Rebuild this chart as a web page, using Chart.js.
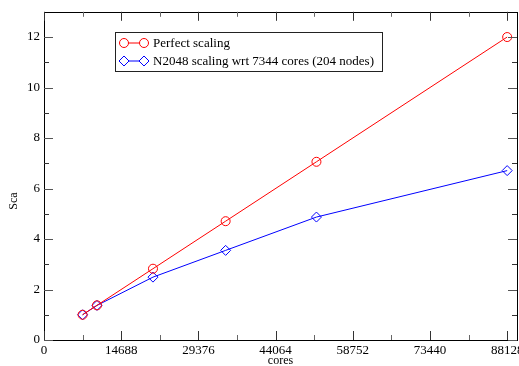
<!DOCTYPE html>
<html>
<head>
<meta charset="utf-8">
<script src="https://cdn.jsdelivr.net/npm/chart.js@4/dist/chart.umd.min.js"></script>
<style>
    html, body { margin: 0; padding: 0; background: #fff; overflow: hidden; }
    #wrap { width: 560px; height: 366px; }
</style>
</head>
<body>
<div id="wrap"><canvas id="scalingChart"></canvas></div>
<script>
// Dados
const cores = [7344, 10080, 20736, 34560, 51840, 88128];
const perfectScaling = [1, 1.373, 2.824, 4.706, 7.059, 12];
const n2048Scaling = [1, 1.37, 2.49, 3.55, 4.87, 6.71];

const xTicks = [0, 14688, 29376, 44064, 58752, 73440, 88128];
const xMinorTicks = [7344, 22032, 36720, 51408, 66096, 80784];
const yTicks = [0, 2, 4, 6, 8, 10, 12];
const yMinorTicks = [1, 3, 5, 7, 9, 11];

const seriesLabels = ['Perfect scaling', 'N2048 scaling wrt 7344 cores (204 nodes)'];
const xTitle = 'cores';
const yTitle = 'Sca';

const SERIF = "'Liberation Serif', 'DejaVu Serif', serif";

// Marcas de escala para dentro, nos quatro lados (estilo xmgrace)
const frameTicksPlugin = {
    id: 'frameTicks',
    afterDatasetsDraw(chart) {
        const { ctx, chartArea: a, scales: { x, y } } = chart;
        ctx.save();
        ctx.lineWidth = 1;
        ctx.strokeStyle = '#000';
        ctx.strokeRect(Math.round(a.left) + 0.5, Math.round(a.top) + 0.5,
            Math.round(a.right - a.left), Math.round(a.bottom - a.top));

        const tick = (x1, y1, x2, y2, color) => {
            ctx.strokeStyle = color;
            ctx.beginPath();
            ctx.moveTo(x1, y1);
            ctx.lineTo(x2, y2);
            ctx.stroke();
        };
        xTicks.forEach(v => {
            const px = Math.round(x.getPixelForValue(v)) + 0.5;
            tick(px, a.bottom, px, a.bottom - 9, '#333');
            tick(px, a.top, px, a.top + 9, '#333');
        });
        xMinorTicks.forEach(v => {
            const px = Math.round(x.getPixelForValue(v)) + 0.5;
            tick(px, a.bottom, px, a.bottom - 5, '#666');
            tick(px, a.top, px, a.top + 5, '#666');
        });
        yTicks.forEach(v => {
            const py = Math.round(y.getPixelForValue(v)) + 0.5;
            tick(a.left, py, a.left + 9, py, '#555');
            tick(a.right, py, a.right - 9, py, '#555');
        });
        yMinorTicks.forEach(v => {
            const py = Math.round(y.getPixelForValue(v)) + 0.5;
            tick(a.left, py, a.left + 5, py, '#333');
            tick(a.right, py, a.right - 5, py, '#333');
        });

        // título do eixo y (fica abaixo do centro no original)
        ctx.fillStyle = '#000';
        ctx.font = '12px ' + SERIF;
        ctx.translate(14, 201);
        ctx.rotate(-Math.PI / 2);
        ctx.textAlign = 'center';
        ctx.textBaseline = 'middle';
        ctx.fillText(yTitle, 0, 0);
        ctx.restore();
    }
};

// Legenda em caixa dentro da área do gráfico
const boxLegendPlugin = {
    id: 'boxLegend',
    afterDraw(chart) {
        const { ctx } = chart;
        const box = { left: 115.5, top: 32.5, width: 267, height: 39 };
        ctx.save();
        ctx.fillStyle = '#fff';
        ctx.fillRect(box.left, box.top, box.width, box.height);
        ctx.strokeStyle = '#222';
        ctx.lineWidth = 1;
        ctx.strokeRect(box.left, box.top, box.width, box.height);

        chart.data.datasets.forEach((ds, i) => {
            const yRow = 43 + i * 18;
            ctx.strokeStyle = ds.borderColor;
            ctx.lineWidth = 1;
            ctx.beginPath();
            ctx.moveTo(124, yRow);
            ctx.lineTo(144, yRow);
            ctx.stroke();
            [124, 144].forEach(px => {
                ctx.fillStyle = '#fff';
                ctx.strokeStyle = ds.borderColor;
                ctx.beginPath();
                const r = ds.pointRadius;
                if (ds.pointStyle === 'circle') {
                    ctx.arc(px, yRow, r, 0, Math.PI * 2);
                } else {
                    ctx.moveTo(px - r, yRow);
                    ctx.lineTo(px, yRow - r);
                    ctx.lineTo(px + r, yRow);
                    ctx.lineTo(px, yRow + r);
                    ctx.closePath();
                }
                ctx.fill();
                ctx.stroke();
            });
            ctx.fillStyle = '#000';
            ctx.font = '13px ' + SERIF;
            ctx.textAlign = 'left';
            ctx.textBaseline = 'middle';
            ctx.fillText(ds.label, 153, yRow + 1);
        });
        ctx.restore();
    }
};

function makeDataset(label, values, color, style, radius) {
    return {
        label: label,
        data: cores.map((c, i) => ({ x: c, y: values[i] })),
        borderColor: color,
        backgroundColor: 'transparent',
        borderWidth: 1,
        pointStyle: style,
        pointRadius: radius,
        pointBorderWidth: 1,
        pointBorderColor: color,
        pointBackgroundColor: 'transparent',
        tension: 0
    };
}

const ctx = document.getElementById('scalingChart').getContext('2d');
new Chart(ctx, {
    type: 'line',
    data: {
        datasets: [
            makeDataset(seriesLabels[0], perfectScaling, '#ff0000', 'circle', 4.5),
            makeDataset(seriesLabels[1], n2048Scaling, '#0000ff', 'rectRot', 5)
        ]
    },
    options: {
        responsive: true,
        maintainAspectRatio: false,
        animation: false,
        layout: { padding: { top: 9, right: 43, left: 0, bottom: 0 } },
        plugins: {
            legend: { display: false },
            tooltip: { enabled: false }
        },
        scales: {
            x: {
                type: 'linear',
                min: 0,
                max: 90000,
                afterBuildTicks: scale => { scale.ticks = xTicks.map(v => ({ value: v })); },
                afterFit: scale => { scale.height = 26; },
                grid: { display: false, drawTicks: false },
                border: { display: false },
                ticks: {
                    autoSkip: false,
                    maxRotation: 0,
                    padding: 3,
                    color: '#000',
                    font: { family: SERIF, size: 13 },
                    callback: v => String(v)
                },
                title: {
                    display: true,
                    text: xTitle,
                    color: '#000',
                    font: { family: SERIF, size: 12, lineHeight: 1 },
                    padding: { top: 0, bottom: -1 }
                }
            },
            y: {
                type: 'linear',
                min: 0,
                max: 13,
                afterBuildTicks: scale => { scale.ticks = yTicks.map(v => ({ value: v })); },
                afterFit: scale => { scale.width = 44; },
                grid: { display: false, drawTicks: false },
                border: { display: false },
                ticks: {
                    autoSkip: false,
                    padding: 4,
                    color: '#000',
                    font: { family: SERIF, size: 13 }
                }
            }
        }
    },
    plugins: [frameTicksPlugin, boxLegendPlugin]
});
</script>
</body>
</html>
